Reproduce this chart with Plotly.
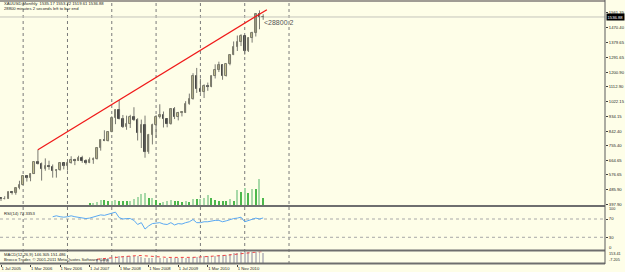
import plotly.graph_objects as go

# ---------------- data ----------------
months = [f"{2005 + (6 + k) // 12}-{(6 + k) % 12 + 1:02d}" for k in range(72)]  # 2005-07 .. 2011-06

opens = [437, 429, 433, 473, 466, 495, 517, 569, 556, 582, 654, 643,
         614, 632, 624, 599, 604, 646, 632, 651, 667, 662, 678, 659,
         650, 666, 673, 743, 789, 783, 836, 923, 971, 917, 865, 886,
         929, 913, 834, 882, 717, 819, 883, 928, 942, 917, 889, 980,
         927, 954, 955, 1007, 1039, 1181, 1096, 1081, 1118, 1113, 1179, 1214,
         1244, 1181, 1248, 1307, 1357, 1386, 1421, 1333, 1409, 1439, 1556, 1535.17]
highs = [438, 447, 474, 479, 497, 541, 571, 574, 587, 655, 730, 652,
         677, 663, 640, 612, 650, 650, 660, 690, 675, 693, 693, 672,
         683, 683, 745, 793, 848, 842, 933, 975, 1032, 941, 937, 942,
         988, 921, 913, 937, 826, 888, 940, 1006, 962, 920, 983, 989,
         960, 965, 1025, 1071, 1195, 1227, 1162, 1127, 1138, 1180, 1249, 1265,
         1246, 1250, 1308, 1388, 1424, 1432, 1424, 1413, 1447, 1557, 1577, 1553.22]
lows = [418, 428, 433, 457, 456, 489, 516, 536, 538, 582, 640, 542,
        602, 608, 560, 560, 602, 610, 603, 645, 636, 662, 650, 640,
        648, 644, 670, 724, 782, 780, 836, 885, 914, 862, 851, 862,
        904, 786, 740, 681, 705, 762, 802, 920, 865, 866, 882, 916,
        908, 932, 954, 1003, 1034, 1075, 1076, 1044, 1088, 1110, 1163, 1202,
        1155, 1175, 1243, 1305, 1330, 1360, 1308, 1324, 1381, 1418, 1462, 1519.61]
closes = [429, 433, 473, 466, 495, 517, 569, 556, 582, 654, 643, 614,
          632, 624, 599, 604, 646, 632, 651, 667, 662, 678, 659, 650,
          666, 673, 743, 789, 783, 836, 923, 971, 917, 865, 886, 929,
          913, 834, 882, 717, 819, 883, 928, 942, 917, 889, 980, 927,
          954, 955, 1007, 1039, 1181, 1096, 1081, 1118, 1113, 1179, 1214, 1244,
          1181, 1248, 1307, 1357, 1386, 1421, 1333, 1409, 1439, 1556, 1536, 1536.88]

volume_start = "2007-07"
volumes = [1300, 2300, 3000, 4700, 4700, 4000, 4500, 4700, 4000, 3700, 3700, 4000,
           5700, 8300, 11300, 11700, 6700, 7000, 5000, 1700, 3000, 3700, 4700, 4300,
           4000, 3300, 4300, 3000, 5700, 5700, 6300, 6700, 9700, 6700, 5000, 4000,
           4000, 3700, 5700, 4000, 15000, 13000, 17300, 12300, 16300, 16300, 25700, 6700]

rsi_start = "2006-09"
rsi_vals = [75, 77, 75, 74, 75, 77, 75, 74, 72, 71, 72, 74,
            77, 79, 78, 80, 83, 85, 73, 70, 71, 71, 67, 58,
            62, 48, 55, 60, 61, 62, 59, 58, 62, 57, 60, 59,
            62, 64, 69, 62, 62, 64, 64, 66, 67, 67, 64, 66,
            69, 71, 72, 74, 64, 67, 69, 72, 70, 72.3353]

macd_start = "2007-09"
macd_main = [55, 62, 70, 78, 88, 98, 104, 104, 103, 103, 102, 95,
             91, 76, 71, 71, 73, 76, 75, 72, 74, 72, 72, 71,
             74, 78, 90, 92, 92, 94, 95, 100, 106, 112, 111, 116,
             125, 138, 146, 151, 148, 149, 151, 153.41, 153, 146.305]
macd_signal = [50, 53, 57, 61, 66, 72, 78, 84, 90, 95, 98, 99,
               99, 97, 94, 90, 86, 82, 78, 74, 73, 73, 73, 73,
               73, 73, 75, 77, 79, 81, 84, 87, 91, 95, 99, 103,
               108, 114, 120, 127, 133, 138, 143, 147, 150, 151.486]
macd_min, macd_max = -7.205, 153.41

trend_months = ["2006-05", "2011-07"]
trend_prices = [730.0, 1581.0]

separator_months = ["2006-01", "2007-01", "2008-01", "2009-01", "2010-01", "2011-01", "2012-01"]

tick_months = ["2005-07", "2006-03", "2006-11", "2007-07", "2008-03",
               "2008-11", "2009-07", "2010-03", "2010-11"]
tick_labels = ["1 Jul 2005", "1 Mar 2006", "1 Nov 2006", "1 Jul 2007", "1 Mar 2008",
               "1 Nov 2008", "1 Jul 2009", "1 Mar 2010", "1 Nov 2010"]

price_ticks = [1561.35, 1470.40, 1379.65, 1291.65, 1200.90, 1112.90, 1022.15,
               934.15, 842.40, 755.40, 664.65, 576.65, 485.90, 397.90]
bid_price = 1536.88
title_line1 = "XAUUSD,Monthly  1535.17 1553.22 1519.61 1536.88"
title_line2 = "28800 minutes 2 seconds left to bar end"
timer_text = "<28800.2"
timer_price = 1506
rsi_label = "RSI(14) 72.3353"
macd_label = "MACD(12,26,9) 146.305 151.486"
copyright_label = "Brocco Trader, © 2001-2011 MetaQuotes Software Corp."


def midx(m):
    y, mo = map(int, m.split("-"))
    return (y - 2005) * 12 + (mo - 7)


# ---------------- layout constants ----------------
W, H = 625, 272
MR, MB = 18, 8
PW, PH = W - MR, H - MB  # plot area 607 x 264
BG = "#FEFEE8"
TXT = "#1e1e1e"
FS = 4.2
FONT = "Liberation Sans"


def py(p):
    return 1 - p / PH


def px(p):
    return p / PW


x_bars = [midx(m) for m in months]
vol_x = [midx(volume_start) + i for i in range(len(volumes))]
rsi_x = [midx(rsi_start) + i for i in range(len(rsi_vals))]
macd_x = [midx(macd_start) + i for i in range(len(macd_main))]
vol_colors = ["#A8D9A8" if i > 0 and v > volumes[i - 1] else "#4CB84C" for i, v in enumerate(volumes)]

fig = go.Figure()

fig.add_trace(go.Bar(x=vol_x, y=volumes, yaxis="y2", marker=dict(color=vol_colors, line=dict(width=0)),
                     width=0.3, hoverinfo="skip"))

# candle wicks (high-low), drawn through the price axis
wick_x, wick_y = [], []
for xi, h, l in zip(x_bars, highs, lows):
    wick_x += [xi, xi, None]
    wick_y += [h, l, None]
fig.add_trace(go.Scatter(x=wick_x, y=wick_y, yaxis="y", mode="lines",
                         line=dict(color="#7A7A72", width=1), hoverinfo="skip"))

# candle bodies
up = [c >= o for o, c in zip(opens, closes)]
body_base = [min(o, c) for o, c in zip(opens, closes)]
body_len = [max(abs(c - o), 2.5) for o, c in zip(opens, closes)]
fig.add_trace(go.Bar(x=x_bars, y=body_len, base=body_base, yaxis="y", width=0.42,
                     marker=dict(color=["#E6E2A0" if u else "#343434" for u in up],
                                 line=dict(color=["#6E6E60" if u else "#3A3A3A" for u in up], width=0.9))))

fig.add_trace(go.Scatter(x=[midx(m) for m in trend_months], y=trend_prices, yaxis="y",
                         mode="lines", line=dict(color="#F01A1A", width=1.3)))
fig.add_trace(go.Scatter(x=rsi_x, y=rsi_vals, yaxis="y3", mode="lines",
                         line=dict(color="#5AA8F2", width=1)))
fig.add_trace(go.Bar(x=macd_x, y=macd_main, yaxis="y4", marker=dict(color="#C4C4C4", line=dict(width=0)),
                     width=0.25))
fig.add_trace(go.Scatter(x=macd_x, y=macd_signal, yaxis="y4", mode="lines",
                         line=dict(color="#F04040", width=1, dash="dot")))

# price scale: 397.90 at px 204.3, 6.08 per px
p_lo = price_ticks[-1] - (205 - 204.3) * 6.08
p_hi = price_ticks[-1] + 204.3 * 6.08

shapes = []
for m in separator_months:
    shapes.append(dict(type="line", xref="x", yref="paper", x0=midx(m), x1=midx(m), y0=0, y1=1,
                       line=dict(color="#7A7A7A", width=1, dash="dot"), layer="below"))
shapes.append(dict(type="line", xref="paper", yref="y", x0=0, x1=1, y0=bid_price, y1=bid_price,
                   line=dict(color="#C4C4BC", width=1), layer="below"))
for lvl in (70, 30):
    shapes.append(dict(type="line", xref="paper", yref="y3", x0=0, x1=1, y0=lvl, y1=lvl,
                       line=dict(color="#A8A8A8", width=1, dash="dot"), layer="below"))
shapes.append(dict(type="line", xref="paper", yref="paper", x0=0, x1=1, y0=py(1), y1=py(1),
                   line=dict(color="#A09C94", width=2)))
for p in (206, 250.5, 263.5):
    shapes.append(dict(type="line", xref="paper", yref="paper", x0=0, x1=1, y0=py(p), y1=py(p),
                       line=dict(color="#6E6E6E", width=2)))
shapes.append(dict(type="line", xref="paper", yref="paper", x0=1, x1=1, y0=0, y1=1,
                   line=dict(color="#5A5A5A", width=1)))

ann = []
def note(text, x, y, size=FS, color=TXT, xanchor="left", **kw):
    d = dict(text=text, x=x, y=y, xref="paper", yref="paper", showarrow=False,
             xanchor=xanchor, yanchor="middle", font=dict(size=size, color=color, family=FONT))
    d.update(kw)
    ann.append(d)

note(title_line1, px(2), py(4))
note(title_line2, px(2), py(8.5))
note(rsi_label, px(2), py(213))
note(macd_label, px(2), py(254.5))
note(copyright_label, px(2), py(259.5))
note("100", 1, py(209), xshift=2, size=3.8)
note("0", 1, py(247), xshift=2)
note(f"{macd_max:.2f}", 1, py(253.6), xshift=2, size=3.8)
note(f"{macd_min:.3f}", 1, py(259.6), xshift=2, size=3.8)
ann.append(dict(text=f"{bid_price:.2f}", x=1, y=bid_price, xref="paper", yref="y", showarrow=False,
                xanchor="left", yanchor="middle", xshift=1, bgcolor="#000000", borderpad=0.5,
                font=dict(size=FS, color="#FFFFFF", family=FONT)))
ann.append(dict(text=timer_text, x=x_bars[-1], y=timer_price, xref="x", yref="y", showarrow=False,
                xanchor="left", yanchor="middle", xshift=-1,
                font=dict(size=7, color="#555555", family=FONT)))

tickfont = dict(size=FS, color=TXT, family=FONT)
fig.update_layout(
    width=W, height=H,
    margin=dict(l=0, r=MR, t=0, b=MB, pad=0),
    paper_bgcolor=BG, plot_bgcolor="rgba(0,0,0,0)",
    showlegend=False, barmode="overlay", bargap=0,
    font=dict(family=FONT, size=FS, color=TXT),
    xaxis=dict(domain=[0, 1], anchor="y4", range=[-1 / 3.705, (PW - 1) / 3.705],
               tickvals=[midx(m) for m in tick_months], ticktext=tick_labels, tickangle=0,
               ticks="outside", ticklen=2, tickcolor="#404040", tickfont=tickfont,
               ticklabelposition="outside right", showgrid=False, zeroline=False,
               showline=False, fixedrange=True),
    yaxis=dict(domain=[py(205), 1], range=[p_lo, p_hi], side="right", anchor="x",
               tickvals=price_ticks, ticktext=[f"{v:.2f}" for v in price_ticks],
               ticks="outside", ticklen=2, tickcolor="#404040", tickfont=tickfont,
               showgrid=False, zeroline=False, showline=False),
    yaxis2=dict(domain=[py(205), 1], overlaying="y", range=[0, 205000], visible=False),
    yaxis3=dict(domain=[py(251), py(205.3)], range=[0, 100], side="right", anchor="x",
                tickvals=[70, 30], ticktext=["70", "30"], ticks="outside", ticklen=2,
                tickcolor="#404040", tickfont=tickfont, showgrid=False, zeroline=False, showline=False),
    yaxis4=dict(domain=[py(263.5), py(251.5)], range=[macd_min, macd_max], anchor="x", visible=False),
    shapes=shapes, annotations=ann,
)

fig.write_html("out.html")
